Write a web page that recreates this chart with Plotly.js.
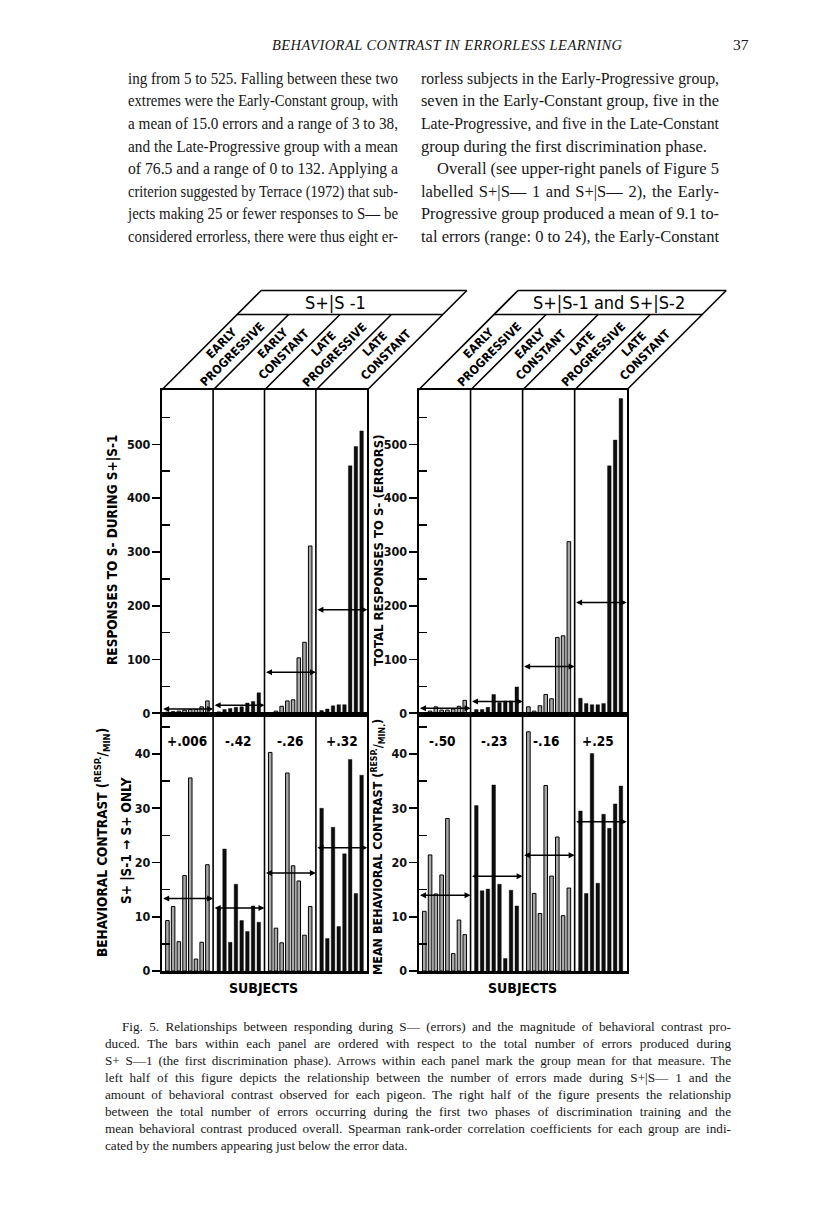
<!DOCTYPE html>
<html><head><meta charset="utf-8">
<script src="https://cdn.plot.ly/plotly-3.0.1.min.js"></script>
<style>
body{margin:0;background:#fff;}
#page{position:relative;width:816px;height:1207px;overflow:hidden;background:#fff;}
#chart{position:absolute;left:0;top:0;width:816px;height:1207px;}
.ln{position:absolute;white-space:nowrap;font-family:"Liberation Serif","DejaVu Serif",serif;color:#161616;line-height:1;transform-origin:0 50%;}
</style></head>
<body><div id="page"><div id="chart"></div></div>
<script>
// ---------------- DATA ----------------
const groupNames = ['EARLY<br>PROGRESSIVE','EARLY<br>CONSTANT','LATE<br>PROGRESSIVE','LATE<br>CONSTANT'];
// Left half: responses to S- during S+|S-1
const errP1_EP = [2, 3, 4, 6, 7, 7, 12, 23];
const errP1_EC = [3, 7, 9, 11, 12, 19, 22, 38];
const errP1_LP = [1, 4, 13, 23, 25, 103, 132, 311];
const errP1_LC = [5, 8, 14, 16, 16, 460, 496, 525];
// Left half: behavioral contrast S+|S-1 -> S+ only
const con1_EP = [9.3, 11.9, 5.4, 17.6, 35.6, 2.2, 5.3, 19.6];
const con1_EC = [11.5, 22.5, 5.3, 16.0, 9.3, 7.3, 12.0, 9.0];
const con1_LP = [40.3, 7.9, 5.2, 36.5, 19.4, 16.6, 6.6, 11.9];
const con1_LC = [30.0, 6.0, 26.5, 8.2, 21.6, 39.0, 14.3, 36.1];
// Right half: total responses to S- (errors), S+|S-1 and S+|S-2
const errTot_EP = [0, 4, 12, 6, 6, 8, 13, 24];
const errTot_EC = [7, 7, 11, 35, 20, 23, 23, 49];
const errTot_LP = [12, 4, 14, 35, 27, 141, 144, 319];
const errTot_LC = [28, 18, 16, 16, 18, 460, 508, 585];
// Right half: mean behavioral contrast
const conM_EP = [11.0, 21.4, 14.2, 17.7, 28.1, 3.2, 9.4, 6.7];
const conM_EC = [30.5, 14.8, 15.1, 34.3, 16.0, 2.3, 14.9, 12.0];
const conM_LP = [44.1, 14.3, 10.6, 34.2, 17.5, 24.7, 10.2, 15.3];
const conM_LC = [29.5, 14.3, 40.1, 16.2, 28.9, 26.3, 30.8, 34.1];
// Spearman rank-order correlations
const rhoLeft  = ['+.006', '-.42', '-.26', '+.32'];
const rhoRight = ['-.50', '-.23', '-.16', '+.25'];
// Tick values
const errTicks = [0, 100, 200, 300, 400, 500];
const conTicks = [0, 10, 20, 30, 40];

// ---------------- PAGE TEXT ----------------
const runningHead = 'BEHAVIORAL CONTRAST IN ERRORLESS LEARNING';
const pageNumber = '37';
const leftCol = [
 'ing from 5 to 525. Falling between these two',
 'extremes were the Early-Constant group, with',
 'a mean of 15.0 errors and a range of 3 to 38,',
 'and the Late-Progressive group with a mean',
 'of 76.5 and a range of 0 to 132. Applying a',
 'criterion suggested by Terrace (1972) that sub-',
 'jects making 25 or fewer responses to S\u2014 be',
 'considered errorless, there were thus eight er-'
];
const rightCol = [
 'rorless subjects in the Early-Progressive group,',
 'seven in the Early-Constant group, five in the',
 'Late-Progressive, and five in the Late-Constant',
 'group during the first discrimination phase.',
 'Overall (see upper-right panels of Figure 5',
 'labelled S+|S\u2014 1 and S+|S\u2014 2), the Early-',
 'Progressive group produced a mean of 9.1 to-',
 'tal errors (range: 0 to 24), the Early-Constant'
];
const caption = [
 'Fig. 5. Relationships between responding during S\u2014 (errors) and the magnitude of behavioral contrast pro-',
 'duced. The bars within each panel are ordered with respect to the total number of errors produced during',
 'S+ S\u20141 (the first discrimination phase). Arrows within each panel mark the group mean for that measure. The',
 'left half of this figure depicts the relationship between the number of errors made during S+|S\u2014 1 and the',
 'amount of behavioral contrast observed for each pigeon. The right half of the figure presents the relationship',
 'between the total number of errors occurring during the first two phases of discrimination training and the',
 'mean behavioral contrast produced overall. Spearman rank-order correlation coefficients for each group are indi-',
 'cated by the numbers appearing just below the error data.'
];

// ---------------- TEXT PLACEMENT ----------------
const page = document.getElementById('page');
// mode: 'justify' (fill width with word spacing, squeeze if too long), 'letter' (fill with letter spacing), 'left'
function placeLine(txt, x, yc, w, size, mode, extraStyle){
  const d = document.createElement('div');
  d.className = 'ln';
  d.textContent = txt;
  d.style.left = x + 'px';
  d.style.fontSize = size + 'px';
  if (extraStyle) Object.assign(d.style, extraStyle);
  page.appendChild(d);
  const r = d.getBoundingClientRect();
  d.style.top = (yc - r.height/2) + 'px';
  if (mode === 'justify' || mode === 'left'){
    if (r.width > w){ d.style.transform = 'scaleX(' + (w / r.width) + ')'; }
    else if (mode === 'justify'){
      const n = (txt.match(/ /g)||[]).length;
      if (n) d.style.wordSpacing = ((w - r.width)/n) + 'px';
    }
  } else if (mode === 'letter'){
    d.style.letterSpacing = ((w - r.width)/(txt.length - 1)) + 'px';
  }
  return d;
}
placeLine(runningHead, 272, 45, 350, 14.5, 'letter', {fontStyle:'italic'});
placeLine(pageNumber, 733, 45, 20, 15.5, 'left');
leftCol.forEach((t,i)=> placeLine(t, 128, 79 + i*22.6, 270, 16.5, 'justify'));
rightCol.forEach((t,i)=> {
  const indent = (i===4) ? 16 : 0;
  placeLine(t, 421 + indent, 79 + i*22.6, 298 - indent, 16.5, i===3 ? 'left' : 'justify');
});
caption.forEach((t,i)=> {
  const indent = (i===0) ? 17 : 0;
  placeLine(t, 105 + indent, 1027 + i*17, 626 - indent, 13.2, i !== caption.length-1 ? 'justify' : 'left');
});

// ---------------- CHART ----------------
const W = 816, H = 1207;
const fx = p => p / W, fy = p => 1 - p / H;
const LX = [161.7, 367.3], RX = [418.5, 626.7];
const TOPY = [390, 715], BOTY = [715, 971];
const NG = 4, SLOT = 9; // 9 slots per group: bars on slots 1..8
const XR = [0, NG*SLOT];
const FONT = '"DejaVu Sans Condensed", "DejaVu Sans", sans-serif';

function bars(groups, xa, ya){
  return groups.map((vals, g) => ({
    type:'bar', xaxis:xa, yaxis:ya, width:0.62,
    x: vals.map((_, i) => g*SLOT + 1 + i), y: vals,
    marker:{color: g%2===0 ? '#a8a8a8' : '#0d0d0d', line:{color:'#000', width: g%2===0 ? 1 : 0.4}},
    hoverinfo:'skip', showlegend:false
  }));
}
const mean = a => a.reduce((s,v)=>s+v,0)/a.length;

const leftTop = [errP1_EP, errP1_EC, errP1_LP, errP1_LC];
const leftBot = [con1_EP, con1_EC, con1_LP, con1_LC];
const rightTop = [errTot_EP, errTot_EC, errTot_LP, errTot_LC];
const rightBot = [conM_EP, conM_EC, conM_LP, conM_LC];

const traces = [].concat(
  bars(leftTop, 'x', 'y'), bars(leftBot, 'x2', 'y2'),
  bars(rightTop, 'x3', 'y3'), bars(rightBot, 'x4', 'y4'));

const lineCol = '#000';
function xax(dom, lw){ return {domain:[fx(dom[0]), fx(dom[1])], range:XR, showline:true, mirror:true,
  linecolor:lineCol, linewidth:lw, showgrid:false, zeroline:false, showticklabels:false, ticks:'', fixedrange:true}; }
function yax(dom, range, tv, minorStart, minorStep){ return {domain:[fy(dom[1]), fy(dom[0])], range:range,
  showline:true, mirror:true, linecolor:lineCol, linewidth:1.8, showgrid:false, zeroline:false,
  tickmode:'array', tickvals:tv, ticktext:tv.map(String), ticks:'outside', ticklen:8, tickwidth:1.6, tickcolor:'#000',
  tickfont:{family:FONT, size:12.5, color:'#111', weight:'bold'}, ticklabelstandoff:-1,
  minor:{tick0:minorStart, dtick:minorStep, ticks:'inside', ticklen:8, tickwidth:1.6, tickcolor:'#000', showgrid:false},
  fixedrange:true}; }

const topRange = [-3.2, 601];
const botRange = [0, 47.2];

const layout = {
  width:W, height:H, margin:{l:0,r:0,t:0,b:0}, paper_bgcolor:'rgba(0,0,0,0)', plot_bgcolor:'rgba(0,0,0,0)',
  showlegend:false, bargap:0,
  xaxis: Object.assign(xax(LX, 1.8), {anchor:'y'}),
  yaxis: Object.assign(yax(TOPY, topRange, errTicks, 50, 100), {anchor:'x'}),
  xaxis2: Object.assign(xax(LX, 2.6), {anchor:'y2'}),
  yaxis2: Object.assign(yax(BOTY, botRange, conTicks, 5, 10), {anchor:'x2'}),
  xaxis3: Object.assign(xax(RX, 1.8), {anchor:'y3'}),
  yaxis3: Object.assign(yax(TOPY, topRange, errTicks, 50, 100), {anchor:'x3'}),
  xaxis4: Object.assign(xax(RX, 2.6), {anchor:'y4'}),
  yaxis4: Object.assign(yax(BOTY, botRange, conTicks, 5, 10), {anchor:'x4'}),
  shapes:[], annotations:[]
};

// group dividers spanning both panels
['x', 'x3'].forEach(xr => {
  for (let g = 1; g < NG; g++) layout.shapes.push({type:'line', xref:xr, yref:'paper',
    x0:g*SLOT, x1:g*SLOT, y0:fy(BOTY[1]), y1:fy(TOPY[0]), line:{color:'#000', width:1.6}});
});

// header parallelograms
const HTOP = 290.5, HBAND = 314.5, HD = TOPY[0] - HTOP, HB = TOPY[0] - HBAND;
function header(X, title, titleX){
  const gw = (X[1]-X[0])/NG;
  const seg = (x0,y0,x1,y1,w) => layout.shapes.push({type:'line', xref:'paper', yref:'paper',
    x0:fx(x0), y0:fy(y0), x1:fx(x1), y1:fy(y1), line:{color:'#000', width:w||1.6}});
  seg(X[0], TOPY[0], X[0]+HD, HTOP);
  seg(X[0]+HD, HTOP, X[1]+HD, HTOP);
  seg(X[1]+HD, HTOP, X[1], TOPY[0]);
  seg(X[0]+HB, HBAND, X[1]+HB, HBAND);
  for (let g = 1; g < NG; g++) seg(X[0]+g*gw, TOPY[0], X[0]+g*gw+HB, HBAND);
  for (let g = 0; g < NG; g++) {
    layout.annotations.push({xref:'paper', yref:'paper', x:fx(X[0]+(g+0.5)*gw + HB/2 + 2), y:fy((TOPY[0]+HBAND)/2 - 3),
      text:groupNames[g], showarrow:false, textangle:-45, xanchor:'center', yanchor:'middle',
      font:{family:FONT, size:12, color:'#000', weight:'bold'}, align:'center'});
  }
  layout.annotations.push({xref:'paper', yref:'paper', x:fx(titleX), y:fy((HTOP+HBAND)/2), text:title,
    showarrow:false, xanchor:'center', yanchor:'middle', font:{family:FONT, size:18, color:'#000'}});
}
header(LX, 'S+|S -1', 335);
header(RX, 'S+|S-1 and S+|S-2', 609);

// arrows at group means
function arrows(groups, xr, yr){
  groups.forEach((vals, g) => {
    const m = mean(vals);
    layout.annotations.push({xref:xr, yref:yr, axref:xr, ayref:yr, x:(g+1)*SLOT, y:m, ax:g*SLOT, ay:m,
      text:'', showarrow:true, arrowside:'end+start', arrowhead:2, startarrowhead:2,
      arrowsize:0.8, startarrowsize:0.8, arrowwidth:1.5, arrowcolor:'#000'});
  });
}
arrows(leftTop, 'x', 'y'); arrows(leftBot, 'x2', 'y2');
arrows(rightTop, 'x3', 'y3'); arrows(rightBot, 'x4', 'y4');

// correlation labels
function rhos(list, xr, shift){
  list.forEach((t, g) => layout.annotations.push({xref:xr, yref:'paper', x:g*SLOT + SLOT/2 + shift, y:fy(741),
    text:t, showarrow:false, xanchor:'center', yanchor:'middle', font:{family:FONT, size:13.5, color:'#000', weight:'bold'}}));
}
rhos(rhoLeft, 'x', 0); rhos(rhoRight, 'x3', -0.4);

// axis titles
function vtitle(text, x, y, size){
  layout.annotations.push({xref:'paper', yref:'paper', x:fx(x), y:fy(y), text:text, textangle:-90,
    showarrow:false, xanchor:'center', yanchor:'middle', font:{family:FONT, size:size, color:'#000', weight:'bold'}});
}
vtitle('RESPONSES TO S- DURING S+|S-1', 112, 550, 13.5);
vtitle('TOTAL RESPONSES TO S- (ERRORS)', 378, 550, 13);
vtitle('BEHAVIORAL CONTRAST (<sup>RESP.</sup>/<sub>MIN</sub>)', 102, 843, 13.5);
vtitle('S+ |S-1 \u2192 S+ ONLY', 126, 841, 13.5);
vtitle('MEAN BEHAVIORAL CONTRAST (<sup>RESP.</sup>/<sub>MIN.</sub>)', 378, 847, 12.5);
[263, 522].forEach(x => layout.annotations.push({xref:'paper', yref:'paper', x:fx(x), y:fy(988),
  text:'SUBJECTS', showarrow:false, xanchor:'center', yanchor:'middle', font:{family:FONT, size:14, color:'#000', weight:'bold'}}));

Plotly.newPlot('chart', traces, layout, {staticPlot:true, displayModeBar:false});
</script>
</body></html>
